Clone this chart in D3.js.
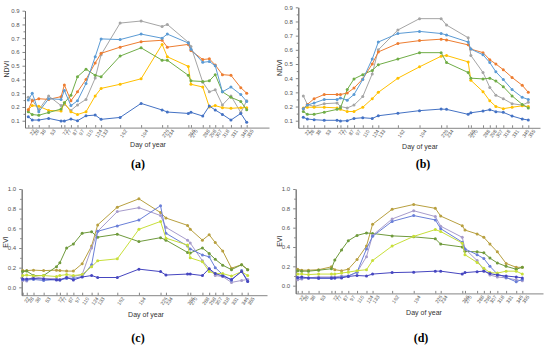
<!DOCTYPE html>
<html>
<head>
<meta charset="utf-8">
<script src="https://cdn.jsdelivr.net/npm/d3@7"></script>
<style>
  body { margin: 0; background: #fff; }
  svg { display: block; }
  .axis text { font-family: "Liberation Sans", Arial, sans-serif; fill: #555; }
  .axis path, .axis line { stroke: #666; stroke-width: 0.8; }
</style>
</head>
<body>
<script>
// day of year of each acquisition
var days = [22, 28, 38, 53, 72, 77, 87, 97, 110, 124, 133, 162, 194, 226, 234, 266, 270, 288, 298, 307, 318, 331, 346, 355];

// (a) NDVI
var a_gray      = [0.27, 0.25, 0.18, 0.28, 0.21, 0.22, 0.175, 0.215, 0.255, 0.41, 0.58, 0.81, 0.825, 0.785, 0.80, 0.67, 0.64, 0.38, 0.31, 0.325, 0.215, 0.28, 0.16, 0.245];
var a_yellow    = [0.18, 0.21, 0.205, 0.175, 0.17, 0.23, 0.165, 0.145, 0.165, 0.28, 0.335, 0.365, 0.405, 0.655, 0.565, 0.495, 0.365, 0.345, 0.20, 0.21, 0.195, 0.19, 0.195, 0.195];
var a_green     = [0.165, 0.145, 0.14, 0.16, 0.185, 0.23, 0.285, 0.42, 0.475, 0.43, 0.42, 0.57, 0.63, 0.54, 0.54, 0.43, 0.39, 0.385, 0.39, 0.435, 0.31, 0.27, 0.24, 0.18];
var a_orange    = [0.18, 0.245, 0.26, 0.255, 0.275, 0.36, 0.245, 0.31, 0.40, 0.52, 0.59, 0.635, 0.675, 0.685, 0.635, 0.655, 0.61, 0.545, 0.55, 0.505, 0.435, 0.43, 0.34, 0.30];
var a_lightBlue = [0.25, 0.30, 0.165, 0.26, 0.255, 0.32, 0.21, 0.245, 0.37, 0.565, 0.695, 0.69, 0.73, 0.70, 0.73, 0.665, 0.62, 0.525, 0.53, 0.50, 0.31, 0.345, 0.29, 0.24];
var a_darkBlue  = [0.129, 0.105, 0.105, 0.117, 0.098, 0.098, 0.112, 0.100, 0.136, 0.141, 0.110, 0.124, 0.226, 0.178, 0.163, 0.153, 0.161, 0.134, 0.207, 0.178, 0.146, 0.105, 0.153, 0.088];

// (b) NDVI
var b_gray      = [0.275, 0.215, 0.20, 0.22, 0.225, 0.20, 0.19, 0.21, 0.27, 0.43, 0.60, 0.74, 0.82, 0.82, 0.775, 0.685, 0.56, 0.44, 0.335, 0.28, 0.255, 0.22, 0.21, 0.23];
var b_yellow    = [0.19, 0.195, 0.195, 0.195, 0.19, 0.18, 0.165, 0.165, 0.195, 0.255, 0.30, 0.40, 0.48, 0.555, 0.56, 0.515, 0.385, 0.305, 0.24, 0.20, 0.185, 0.195, 0.205, 0.20];
var b_green     = [0.165, 0.145, 0.145, 0.16, 0.18, 0.19, 0.32, 0.395, 0.425, 0.455, 0.495, 0.535, 0.58, 0.58, 0.51, 0.44, 0.40, 0.395, 0.40, 0.38, 0.34, 0.275, 0.215, 0.19];
var b_orange    = [0.185, 0.215, 0.255, 0.285, 0.285, 0.285, 0.295, 0.33, 0.395, 0.50, 0.585, 0.645, 0.665, 0.675, 0.67, 0.635, 0.605, 0.58, 0.53, 0.50, 0.46, 0.405, 0.35, 0.30];
var b_lightBlue = [0.185, 0.21, 0.225, 0.25, 0.25, 0.26, 0.245, 0.285, 0.39, 0.535, 0.655, 0.715, 0.73, 0.715, 0.705, 0.655, 0.605, 0.565, 0.51, 0.445, 0.39, 0.32, 0.265, 0.25];
var b_darkBlue  = [0.124, 0.112, 0.107, 0.103, 0.103, 0.098, 0.10, 0.116, 0.121, 0.116, 0.135, 0.152, 0.171, 0.182, 0.18, 0.145, 0.156, 0.168, 0.178, 0.164, 0.159, 0.133, 0.112, 0.105];

// (c) EVI
var c_gold      = [0.17, 0.17, 0.175, 0.17, 0.175, 0.17, 0.165, 0.165, 0.24, 0.42, 0.635, 0.815, 0.90, 0.76, 0.705, 0.63, 0.59, 0.48, 0.535, 0.455, 0.37, 0.195, 0.23, 0.18];
var c_olive     = [0.16, 0.165, 0.12, 0.12, 0.21, 0.25, 0.40, 0.44, 0.55, 0.565, 0.51, 0.54, 0.465, 0.505, 0.48, 0.355, 0.35, 0.40, 0.345, 0.285, 0.225, 0.18, 0.23, 0.18];
var c_lilac     = [0.07, 0.065, 0.11, 0.09, 0.09, 0.08, 0.10, 0.11, 0.13, 0.40, 0.57, 0.77, 0.81, 0.73, 0.61, 0.48, 0.45, 0.27, 0.19, 0.12, 0.11, 0.05, 0.07, 0.08];
var c_blue      = [0.08, 0.075, 0.08, 0.07, 0.08, 0.075, 0.09, 0.09, 0.11, 0.23, 0.57, 0.625, 0.685, 0.83, 0.55, 0.42, 0.39, 0.33, 0.31, 0.20, 0.13, 0.07, 0.17, 0.065];
var c_lime      = [0.12, 0.125, 0.115, 0.12, 0.11, 0.12, 0.13, 0.12, 0.13, 0.21, 0.27, 0.29, 0.59, 0.67, 0.50, 0.43, 0.30, 0.26, 0.16, 0.14, 0.14, 0.115, 0.16, 0.12];
var c_navy      = [0.085, 0.085, 0.09, 0.085, 0.075, 0.075, 0.10, 0.075, 0.105, 0.12, 0.10, 0.10, 0.185, 0.16, 0.125, 0.135, 0.135, 0.12, 0.19, 0.14, 0.115, 0.08, 0.16, 0.06];

// (d) EVI
var d_gold      = [0.17, 0.16, 0.16, 0.165, 0.195, 0.165, 0.155, 0.17, 0.27, 0.41, 0.635, 0.79, 0.84, 0.80, 0.72, 0.62, 0.575, 0.535, 0.50, 0.43, 0.35, 0.23, 0.19, 0.19];
var d_olive     = [0.155, 0.15, 0.15, 0.16, 0.175, 0.265, 0.37, 0.465, 0.52, 0.545, 0.54, 0.515, 0.505, 0.485, 0.43, 0.40, 0.355, 0.35, 0.34, 0.285, 0.235, 0.20, 0.17, 0.19];
var d_lilac     = [0.06, 0.07, 0.08, 0.09, 0.09, 0.09, 0.10, 0.10, 0.14, 0.30, 0.52, 0.69, 0.775, 0.715, 0.615, 0.50, 0.38, 0.26, 0.16, 0.11, 0.09, 0.08, 0.06, 0.05];
var d_blue      = [0.08, 0.08, 0.08, 0.075, 0.075, 0.08, 0.09, 0.10, 0.14, 0.38, 0.51, 0.665, 0.725, 0.68, 0.59, 0.45, 0.38, 0.32, 0.28, 0.20, 0.12, 0.085, 0.04, 0.065];
var d_lime      = [0.12, 0.12, 0.115, 0.12, 0.12, 0.12, 0.13, 0.14, 0.155, 0.165, 0.26, 0.41, 0.51, 0.58, 0.56, 0.44, 0.32, 0.24, 0.18, 0.135, 0.13, 0.15, 0.15, 0.12];
var d_navy      = [0.085, 0.09, 0.08, 0.08, 0.08, 0.08, 0.08, 0.095, 0.105, 0.10, 0.12, 0.135, 0.14, 0.15, 0.15, 0.12, 0.135, 0.145, 0.15, 0.125, 0.11, 0.10, 0.09, 0.08];

var ndviTicks = [0.1, 0.2, 0.3, 0.4, 0.5, 0.6, 0.7, 0.8, 0.9];
var eviTicks = [0.0, 0.2, 0.4, 0.6, 0.8, 1.0];

var ndviColors = ["#a5a5a5", "#ffc000", "#70ad47", "#ed7d31", "#5b9bd5", "#4472c4"];
var eviColors = ["#b8a040", "#6f9a3c", "#a79ccc", "#6a7fd8", "#c8df3a", "#4646c0"];

var panels = [
    { tag: "(a)", yLabel: "NDVI", series: [a_gray, a_yellow, a_green, a_orange, a_lightBlue, a_darkBlue], colors: ndviColors,
      yDomain: [0.05, 0.9], yRange: [127.6, 10.7], ticks: ndviTicks, fmt: ".1f",
      xFirst: 28.3, xLast: 246.7, left: 25, right: 269, tagX: 138, tagY: 168, labelX: 148, labelY: 147, yLabX: 9 },
    { tag: "(b)", yLabel: "NDVI", series: [b_gray, b_yellow, b_green, b_orange, b_lightBlue, b_darkBlue], colors: ndviColors,
      yDomain: [0.05, 0.9], yRange: [127.8, 7.3], ticks: ndviTicks, fmt: ".1f",
      xFirst: 303.3, xLast: 528.3, left: 298.3, right: 540, tagX: 423, tagY: 168, labelX: 420, labelY: 149, yLabX: 282 },
    { tag: "(c)", yLabel: "EVI", series: [c_gold, c_olive, c_lilac, c_blue, c_lime, c_navy], colors: eviColors,
      yDomain: [-0.08, 1.0], yRange: [295.2, 189], ticks: eviTicks, fmt: ".1f",
      xFirst: 22.7, xLast: 247.7, left: 21.7, right: 267, tagX: 138, tagY: 342, labelX: 146, labelY: 317, yLabX: 8 },
    { tag: "(d)", yLabel: "EVI", series: [d_gold, d_olive, d_lilac, d_blue, d_lime, d_navy], colors: eviColors,
      yDomain: [-0.08, 1.0], yRange: [293.4, 189], ticks: eviTicks, fmt: ".1f",
      xFirst: 297.7, xLast: 522.3, left: 295.7, right: 543, tagX: 421, tagY: 342, labelX: 424, labelY: 315, yLabX: 282 }
];

var svg = d3.select("body").append("svg")
    .attr("width", 550)
    .attr("height", 348);

panels.forEach(function(p){
    var base = d3.scaleLinear()
        .domain([days[0], days[days.length - 1]])
        .range([p.xFirst, p.xLast]);
    var x = d3.scaleLinear()
        .domain([base.invert(p.left), base.invert(p.right)])
        .range([p.left, p.right]);
    var y = d3.scaleLinear().domain(p.yDomain).range(p.yRange);

    var g = svg.append("g");

    // x axis: a tick at every acquisition day, labels slanted
    var xAxis = d3.axisBottom(x).tickValues(days).tickSize(-2.5).tickSizeOuter(0).tickFormat(d3.format("d"));
    var gx = g.append("g")
        .attr("class", "axis")
        .attr("transform", "translate(0," + p.yRange[0] + ")")
        .call(xAxis);
    gx.selectAll("text")
        .style("font-size", "5px")
        .attr("text-anchor", "end")
        .attr("dx", "0.2em")
        .attr("dy", "0.9em")
        .attr("transform", "rotate(-55)");

    // y axis with minor ticks
    var step = p.ticks[1] - p.ticks[0];
    var minor = p.ticks.map(function(t){ return t + step / 2; })
        .filter(function(t){ return t < p.yDomain[1]; });
    g.append("g")
        .attr("class", "axis")
        .attr("transform", "translate(" + p.left + ",0)")
        .call(d3.axisLeft(y).tickValues(minor).tickSize(1.5).tickSizeOuter(0).tickFormat(""));
    var gy = g.append("g")
        .attr("class", "axis")
        .attr("transform", "translate(" + p.left + ",0)")
        .call(d3.axisLeft(y).tickValues(p.ticks).tickSize(2.5).tickSizeOuter(0).tickFormat(d3.format(p.fmt)));
    gy.selectAll("text").style("font-size", "6px");

    var line = d3.line()
        .x(function(d, i){ return x(days[i]); })
        .y(function(d){ return y(d); });

    p.series.forEach(function(s, k){
        g.append("path")
            .datum(s)
            .attr("d", line)
            .attr("fill", "none")
            .attr("stroke", p.colors[k])
            .attr("stroke-width", 1);
        g.selectAll(".pt" + k)
            .data(s)
            .enter()
            .append("circle")
            .attr("class", "pt" + k)
            .attr("cx", function(d, i){ return x(days[i]); })
            .attr("cy", function(d){ return y(d); })
            .attr("r", 1.5)
            .style("fill", p.colors[k]);
    });

    g.append("text")
        .attr("x", p.labelX)
        .attr("y", p.labelY)
        .attr("text-anchor", "middle")
        .style("font-family", "Liberation Sans, Arial, sans-serif")
        .style("font-size", "7px")
        .style("fill", "#333")
        .text("Day of year");

    var mid = (p.yRange[0] + p.yRange[1]) / 2;
    g.append("text")
        .attr("transform", "translate(" + p.yLabX + "," + mid + ") rotate(-90)")
        .attr("text-anchor", "middle")
        .style("font-family", "Liberation Sans, Arial, sans-serif")
        .style("font-size", "7px")
        .style("fill", "#333")
        .text(p.yLabel);

    g.append("text")
        .attr("x", p.tagX)
        .attr("y", p.tagY)
        .attr("text-anchor", "middle")
        .style("font-family", "Liberation Serif, Times New Roman, serif")
        .style("font-weight", "bold")
        .style("font-size", "12px")
        .style("fill", "#000")
        .text(p.tag);
});
</script>
</body>
</html>
